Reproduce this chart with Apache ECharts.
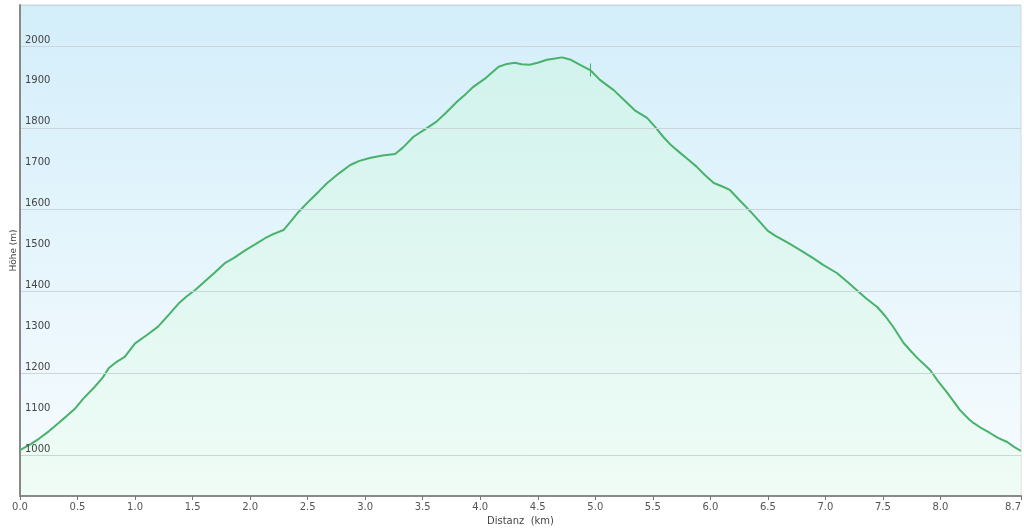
<!DOCTYPE html>
<html>
<head>
<meta charset="utf-8">
<script src="https://cdn.jsdelivr.net/npm/echarts@6/dist/echarts.min.js"></script>
<style>
html, body { margin: 0; padding: 0; background: #fff; }
#chart { width: 1024px; height: 529px; }
</style>
</head>
<body>
<div id="chart"></div>
<script>
// Distanz in km
var distKm = [0.00, 0.10, 0.17, 0.25, 0.33, 0.40, 0.48, 0.55, 0.65, 0.72, 0.77, 0.84, 0.91, 1.00, 1.10, 1.20, 1.30, 1.38, 1.45, 1.52,
    1.62, 1.70, 1.78, 1.86, 1.96, 2.05, 2.13, 2.20, 2.29, 2.35, 2.41, 2.52, 2.60, 2.67, 2.77, 2.87, 2.95, 3.04, 3.15, 3.26,
    3.33, 3.42, 3.52, 3.62, 3.70, 3.80, 3.88, 3.94, 4.05, 4.16, 4.22, 4.30, 4.36, 4.43, 4.50, 4.58, 4.65, 4.71, 4.78, 4.88,
    4.96, 5.04, 5.16, 5.28, 5.35, 5.45, 5.52, 5.59, 5.66, 5.74, 5.81, 5.88, 5.95, 6.03, 6.10, 6.17, 6.25, 6.35, 6.43, 6.50,
    6.57, 6.68, 6.81, 6.90, 6.98, 7.10, 7.20, 7.35, 7.45, 7.52, 7.59, 7.68, 7.75, 7.80, 7.91, 7.98, 8.06, 8.17, 8.25, 8.29,
    8.36, 8.43, 8.50, 8.58, 8.64, 8.70];
// Höhe in m
var elevM = [1012, 1028, 1041, 1058, 1077, 1094, 1114, 1138, 1167, 1190, 1212, 1228, 1240, 1273, 1293, 1314, 1345, 1371, 1388, 1403,
    1428, 1448, 1469, 1482, 1501, 1516, 1530, 1540, 1550, 1570, 1591, 1623, 1645, 1665, 1688, 1709, 1719, 1726, 1732, 1736,
    1752, 1778, 1796, 1815, 1836, 1864, 1884, 1900, 1922, 1949, 1955, 1959, 1955, 1954, 1959, 1966, 1969, 1972, 1967, 1952,
    1940, 1917, 1892, 1860, 1841, 1824, 1802, 1778, 1757, 1738, 1722, 1705, 1685, 1665, 1657, 1648, 1624, 1595, 1570, 1548,
    1535, 1518, 1496, 1480, 1465, 1445, 1421, 1384, 1362, 1340, 1313, 1274, 1252, 1237, 1208, 1180, 1152, 1110, 1087, 1078,
    1065, 1054, 1042, 1032, 1020, 1010];
var xTicks = [0, 0.5, 1, 1.5, 2, 2.5, 3, 3.5, 4, 4.5, 5, 5.5, 6, 6.5, 7, 7.5, 8, 8.7];
var yTicks = [1000, 1100, 1200, 1300, 1400, 1500, 1600, 1700, 1800, 1900, 2000];
// Wegpunkt-Markierung
var waypoint = { km: 4.96, low: 1925, high: 1957 };

var points = distKm.map(function (d, i) { return [d, elevM[i]]; });

var chart = echarts.init(document.getElementById('chart'));
chart.setOption({
    animation: false,
    backgroundColor: '#ffffff',
    textStyle: { fontFamily: 'DejaVu Sans' },
    grid: {
        left: 20, right: 3, top: 5, bottom: 33,
        outerBoundsMode: 'none',
        containLabel: false,
        show: true,
        borderColor: '#d0d8dc',
        borderWidth: 1,
        backgroundColor: new echarts.graphic.LinearGradient(0, 0, 0, 1, [
            { offset: 0, color: '#d3eefa' },
            { offset: 1, color: '#f8fcfe' }
        ])
    },
    xAxis: {
        type: 'value',
        min: 0, max: 8.7,
        z: 5,
        name: 'Distanz  (km)',
        nameLocation: 'middle',
        nameGap: 20,
        nameTextStyle: { fontSize: 10, color: '#444' },
        axisLine: { lineStyle: { color: '#8a8a8a', width: 2 } },
        axisTick: { show: true, length: 4, customValues: xTicks, lineStyle: { color: '#777' } },
        axisLabel: {
            customValues: xTicks,
            fontSize: 10, color: '#555', margin: 6,
            alignMaxLabel: 'right',
            formatter: function (v) { return v.toFixed(1); }
        },
        splitLine: { show: false }
    },
    yAxis: {
        type: 'value',
        min: 900, max: 2100,
        z: 5,
        name: 'Höhe (m)',
        nameLocation: 'middle',
        nameGap: 2,
        nameMoveOverlap: false,
        nameTextStyle: { fontSize: 9, color: '#444' },
        axisLine: { show: true, lineStyle: { color: '#888', width: 2 } },
        axisTick: { show: false },
        axisLabel: {
            customValues: yTicks,
            inside: true,
            verticalAlign: 'bottom',
            margin: 5,
            fontSize: 10, color: '#444',
            padding: [0, 0, 1, 0],
            formatter: function (v) { return String(v); }
        },
        splitLine: { show: true, lineStyle: { color: '#c9d6dc', width: 1 } }
    },
    series: [{
        type: 'line',
        data: points,
        symbol: 'none',
        smooth: false,
        lineStyle: { color: '#48b26a', width: 2 },
        areaStyle: {
            origin: 'start',
            color: new echarts.graphic.LinearGradient(0, 0, 0, 1, [
                { offset: 0, color: 'rgba(205, 245, 225, 0.75)' },
                { offset: 1, color: 'rgba(236, 252, 242, 0.95)' }
            ])
        },
        markLine: {
            silent: true,
            symbol: 'none',
            label: { show: false },
            lineStyle: { color: '#48b26a', width: 1, type: 'solid' },
            data: [[
                { coord: [waypoint.km, waypoint.low] },
                { coord: [waypoint.km, waypoint.high] }
            ]]
        }
    }]
});
</script>
</body>
</html>
